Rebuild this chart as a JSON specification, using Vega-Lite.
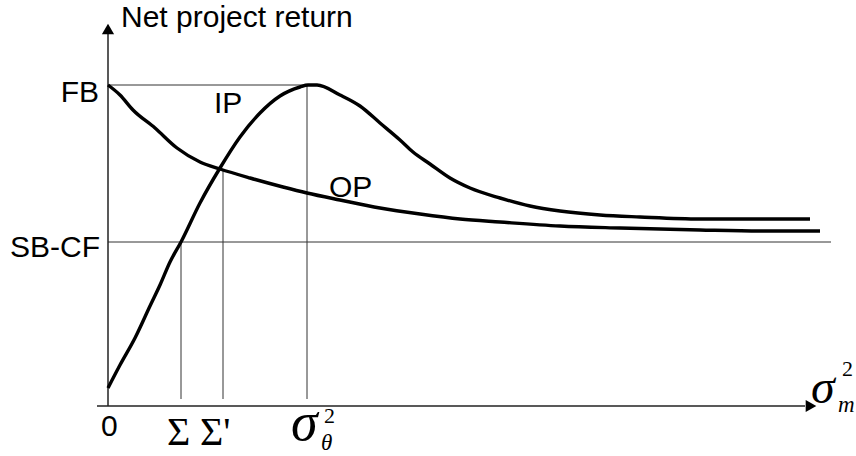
{
  "$schema": "https://vega.github.io/schema/vega-lite/v6.json",
  "width": 856,
  "height": 456,
  "padding": 0,
  "autosize": "none",
  "background": "white",
  "config": {"view": {"stroke": null}},
  "datasets": {
    "curves": [
      {"curve": "IP", "x": 0, "y": 17},
      {"curve": "IP", "x": 12, "y": 40},
      {"curve": "IP", "x": 27, "y": 67},
      {"curve": "IP", "x": 42, "y": 99},
      {"curve": "IP", "x": 52, "y": 120},
      {"curve": "IP", "x": 62, "y": 143},
      {"curve": "IP", "x": 73, "y": 163},
      {"curve": "IP", "x": 92, "y": 202},
      {"curve": "IP", "x": 112, "y": 237},
      {"curve": "IP", "x": 132, "y": 268},
      {"curve": "IP", "x": 152, "y": 292},
      {"curve": "IP", "x": 172, "y": 309},
      {"curve": "IP", "x": 192, "y": 318},
      {"curve": "IP", "x": 200, "y": 320},
      {"curve": "IP", "x": 209, "y": 320},
      {"curve": "IP", "x": 232, "y": 310},
      {"curve": "IP", "x": 252, "y": 299},
      {"curve": "IP", "x": 272, "y": 282},
      {"curve": "IP", "x": 292, "y": 265},
      {"curve": "IP", "x": 305, "y": 253},
      {"curve": "IP", "x": 322, "y": 241},
      {"curve": "IP", "x": 342, "y": 227},
      {"curve": "IP", "x": 362, "y": 217},
      {"curve": "IP", "x": 392, "y": 207},
      {"curve": "IP", "x": 422, "y": 199},
      {"curve": "IP", "x": 452, "y": 194},
      {"curve": "IP", "x": 492, "y": 190},
      {"curve": "IP", "x": 532, "y": 188},
      {"curve": "IP", "x": 592, "y": 186},
      {"curve": "IP", "x": 652, "y": 186},
      {"curve": "IP", "x": 702, "y": 186},
      {"curve": "OP", "x": 0, "y": 320},
      {"curve": "OP", "x": 12, "y": 310},
      {"curve": "OP", "x": 25, "y": 295},
      {"curve": "OP", "x": 47, "y": 277},
      {"curve": "OP", "x": 69, "y": 257},
      {"curve": "OP", "x": 92, "y": 243},
      {"curve": "OP", "x": 112, "y": 236},
      {"curve": "OP", "x": 142, "y": 227},
      {"curve": "OP", "x": 175, "y": 218},
      {"curve": "OP", "x": 199, "y": 212},
      {"curve": "OP", "x": 232, "y": 205},
      {"curve": "OP", "x": 272, "y": 197},
      {"curve": "OP", "x": 312, "y": 191},
      {"curve": "OP", "x": 352, "y": 186},
      {"curve": "OP", "x": 392, "y": 183},
      {"curve": "OP", "x": 452, "y": 179},
      {"curve": "OP", "x": 512, "y": 177},
      {"curve": "OP", "x": 592, "y": 175},
      {"curve": "OP", "x": 652, "y": 174},
      {"curve": "OP", "x": 712, "y": 174}
    ],
    "guides": [
      {"name": "FB", "x": 0, "x2": 200, "y": 320, "y2": 320},
      {"name": "SB-CF", "x": 0, "x2": 723, "y": 163, "y2": 163},
      {"name": "Sigma", "x": 73, "x2": 73, "y": 6, "y2": 163},
      {"name": "Sigma'", "x": 115, "x2": 115, "y": 6, "y2": 235},
      {"name": "sigma_theta", "x": 199, "x2": 199, "y": 6, "y2": 320}
    ],
    "axes": [
      {"name": "x-axis", "x": -11, "x2": 697, "y": -1, "y2": -1},
      {"name": "y-axis", "x": 0, "x2": 0, "y": -1, "y2": 372}
    ],
    "arrows": [
      {"name": "x-axis", "x": 703, "y": -1},
      {"name": "y-axis", "x": 0, "y": 376}
    ]
  },
  "encoding": {
    "x": {"field": "x", "type": "quantitative", "scale": {"domain": [-108, 748], "nice": false, "zero": false}, "axis": null},
    "y": {"field": "y", "type": "quantitative", "scale": {"domain": [-51, 405], "nice": false, "zero": false}, "axis": null}
  },
  "layer": [
    {
      "data": {"name": "guides"},
      "mark": {"type": "rule", "stroke": "#333333", "strokeWidth": 1},
      "encoding": {"x2": {"field": "x2"}, "y2": {"field": "y2"}}
    },
    {
      "data": {"name": "axes"},
      "mark": {"type": "rule", "stroke": "#222222", "strokeWidth": 1.5},
      "encoding": {"x2": {"field": "x2"}, "y2": {"field": "y2"}}
    },
    {
      "data": {"name": "arrows"},
      "mark": {"type": "point", "filled": true, "color": "black", "opacity": 1, "size": 150},
      "encoding": {
        "shape": {"field": "name", "type": "nominal", "scale": {"domain": ["x-axis", "y-axis"], "range": ["triangle-right", "triangle-up"]}, "legend": null}
      }
    },
    {
      "data": {"name": "curves"},
      "mark": {"type": "line", "color": "black", "strokeWidth": 3.4, "interpolate": "monotone"},
      "encoding": {"detail": {"field": "curve", "type": "nominal"}}
    },
    {
      "data": {"values": [
        {"label": "FB", "x": -9, "y": 303},
        {"label": "SB-CF", "x": -8, "y": 148}
      ]},
      "mark": {"type": "text", "font": "Liberation Sans", "fontSize": 30, "align": "right", "baseline": "alphabetic", "color": "black"},
      "encoding": {"text": {"field": "label"}}
    },
    {
      "data": {"values": [
        {"label": "Net project return", "x": 13, "y": 378}
      ]},
      "mark": {"type": "text", "font": "Liberation Sans", "fontSize": 30, "align": "left", "baseline": "alphabetic", "color": "black"},
      "encoding": {"text": {"field": "label"}}
    },
    {
      "data": {"values": [
        {"label": "0", "x": -7, "y": -31},
        {"label": "IP", "x": 106, "y": 292},
        {"label": "OP", "x": 221, "y": 208}
      ]},
      "mark": {"type": "text", "font": "Liberation Sans", "fontSize": 30, "align": "left", "baseline": "alphabetic", "color": "black"},
      "encoding": {"text": {"field": "label"}}
    },
    {
      "data": {"values": [
        {"label": "Σ", "x": 59, "y": -40},
        {"label": "Σ'", "x": 92, "y": -40}
      ]},
      "mark": {"type": "text", "font": "Liberation Serif", "fontSize": 40, "align": "left", "baseline": "alphabetic", "color": "black"},
      "encoding": {"text": {"field": "label"}}
    },
    {
      "data": {"values": [
        {"label": "σ", "x": 183, "y": -35}
      ]},
      "mark": {"type": "text", "font": "Liberation Serif", "fontStyle": "italic", "fontSize": 54, "align": "left", "baseline": "alphabetic", "color": "black"},
      "encoding": {"text": {"field": "label"}}
    },
    {
      "data": {"values": [
        {"label": "σ", "x": 703, "y": 2}
      ]},
      "mark": {"type": "text", "font": "Liberation Serif", "fontStyle": "italic", "fontSize": 48, "align": "left", "baseline": "alphabetic", "color": "black"},
      "encoding": {"text": {"field": "label"}}
    },
    {
      "data": {"values": [
        {"label": "θ", "x": 213, "y": -45},
        {"label": "m", "x": 730, "y": -7}
      ]},
      "mark": {"type": "text", "font": "Liberation Serif", "fontStyle": "italic", "fontSize": 23, "align": "left", "baseline": "alphabetic", "color": "black"},
      "encoding": {"text": {"field": "label"}}
    },
    {
      "data": {"values": [
        {"label": "2", "x": 216, "y": -18},
        {"label": "2", "x": 734, "y": 29}
      ]},
      "mark": {"type": "text", "font": "Liberation Serif", "fontSize": 22, "align": "left", "baseline": "alphabetic", "color": "black"},
      "encoding": {"text": {"field": "label"}}
    }
  ]
}
